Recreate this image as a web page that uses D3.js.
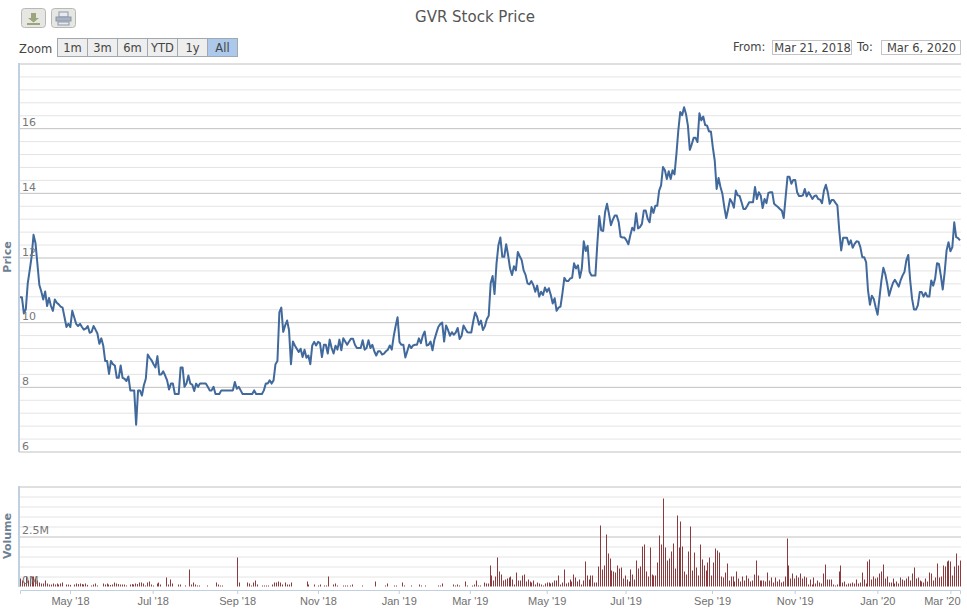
<!DOCTYPE html>
<html lang="en">
<head>
  <meta charset="UTF-8" />
  <title>GVR Stock Price</title>
  <style>
    body { margin: 0; background: white; }
    svg { display: block; font-family: "DejaVu Sans", sans-serif; }
    .grid-major line { stroke: #c0c0c0; }
    .grid-minor line { stroke: #e4e4e4; }
    .grid-major path, .grid-minor path { display: none; }
    .ylabel { font-size: 11px; fill: #777; }
    .xaxis text { font-size: 11px; fill: #6f6f6f; }
    .xaxis line { stroke: #c0d0e0; }
    .xaxis path { stroke: #c0d0e0; }
    .ui { font-size: 11.5px; fill: #444; }
  </style>
</head>
<body>
  <svg width="967" height="609"></svg>

  <script src="https://d3js.org/d3.v7.min.js"></script>
  <script>
    // closing price per trading day in three stretches
    const priceA = [10.77,10.77,10.27,10.4,11.2,11.6,12.03,12.7,12.45,11.8,11.15,10.95,10.7,10.95,10.5,10.75,10.5,10.35,10.7,10.6,10.55,10.48,10.45,10.15,9.85,9.95,9.85,10.35,10.15,9.95,9.88,9.95,9.85,9.77,9.8,9.88,9.67,9.7,9.88,9.77,9.65,9.33,9.5,9.28,8.8,8.8,8.4,8.8,8.7,8.66,8.28,8.28,8.66,8.28,8.25,8.18,8.32,7.89,7.89,7.89,6.83,7.89,7.89,7.73,8.05,8.25,9.0,8.9,8.82,8.7,8.6,8.95,8.38,8.38,8.48,8.35,8.2,7.92,8.1,8.1,7.78,7.78,7.78,8.6,8.6,8.0,8.1,8.35,8.1,8.07,7.87,8.1,8.0,8.1,8.1,8.1,8.1,8.0,7.89,7.89,8.0,7.78,7.78,7.78,7.89,7.89,7.89,7.89,7.89,7.89,7.89,8.15,7.94,8.0,7.89,7.78,7.78,7.78,7.78,7.78,7.78,7.89,7.78,7.78,7.78,7.78,7.89,8.1,8.1,8.2,8.1,8.2,8.7,8.8,10.3,10.45,9.7,9.9,10.05,9.75,8.7,9.4,9.28,9.18,9.08,9.18,8.92,9.15,8.9,8.97,8.7,9.28,9.39,9.28,9.39];
    const priceB = [9.35,8.92,9.3,9.3,9.03,9.46,9.2,9.03,9.27,9.15,9.46,9.13,9.5,9.4,9.3,9.4,9.49,9.49,9.3,9.2,9.2,9.2,9.44,9.15,9.2,9.44,9.2,9.3,9.1,8.97,9.1,9.1,9.0,9.03,9.1,9.15,9.28,9.15,9.56,9.88,10.15,9.38,9.3,9.3,8.91,9.1,9.3,9.2,9.28,9.3,9.3,9.5,9.35,9.58,9.71,9.28,9.3,9.4,9.13,9.46,9.66,9.85,9.94,9.99,9.4,9.9,9.76,9.58,9.69,9.61,9.68,9.82,9.48,9.58,9.9,9.79,9.69,9.68,9.68,10.02,10.3,10.17,9.92,10.05,9.76,9.87,10.09,10.2,11.2,11.43,10.87,11.8,12.38,12.62,12.02,12.02,12.41,12.07,11.66,11.46,11.73,11.6,12.17,12.04,11.92,11.6,11.46,11.2,11.17,11.27,11.15,10.94,11.13,10.79,10.94,10.84,11.07,10.94,11.05,10.84,10.58,10.74,10.35,10.45,10.48,10.89,11.37,11.27,11.27,11.35,11.37,11.82,11.66,11.76,11.37,11.66,12.5,12.2,12.36,11.56,11.44,11.44,11.44,12.43,13.28,12.84,12.82,13.4,13.66,13.35,13.0,13.17,13.3,13.3,13.1,12.64,12.62,12.62,12.53,12.41,12.69,12.92,12.84,13.37,12.9];
    const priceC = [12.94,13.04,13.45,13.45,13.2,13.09,13.56,13.38,13.6,13.6,14.07,14.23,14.8,14.7,14.43,14.67,14.43,14.7,14.57,15.2,15.93,16.5,16.4,16.65,16.44,16.08,15.33,15.5,15.7,15.7,15.57,16.46,16.24,16.36,16.1,16.08,15.9,15.9,15.41,15.0,14.12,14.46,14.18,13.97,13.56,13.22,13.5,13.81,13.71,13.54,14.07,13.92,13.9,13.71,13.5,13.5,13.6,13.71,13.71,13.71,14.18,13.81,14.02,13.92,13.53,13.81,13.68,14.0,14.02,14.02,13.66,13.61,13.56,13.5,13.45,13.22,13.87,14.5,14.5,14.28,14.4,14.4,14.02,13.9,13.9,13.92,14.12,13.89,14.02,13.92,13.81,13.9,13.92,13.81,13.79,13.68,14.07,14.25,14.02,13.66,13.78,13.78,13.69,13.61,12.83,12.22,12.61,12.61,12.61,12.4,12.53,12.3,12.42,12.5,12.49,12.32,12.01,12.01,11.86,10.98,10.54,10.82,10.72,10.46,10.23,10.77,11.29,11.68,11.49,11.19,10.82,11.03,11.21,11.31,11.21,11.1,11.29,11.44,11.55,11.91,12.08,11.29,10.72,10.39,10.39,10.52,10.93,10.93,10.79,10.91,10.79,10.79,11.29,11.13,11.34,11.82,11.8,11.44,11.01,11.55,12.22,12.47,12.19,12.32,13.09,12.63,12.6,12.53];
    const prices = priceA.concat(priceB, priceC);

    // traded volume in millions, same three stretches
    const volumeA = [0.4,0.3,0.2,0.5,0.3,0.4,0.5,0.5,0.4,0.3,0.2,0.15,0.15,0.3,0.15,0.1,0.1,0.15,0.1,0.15,0.1,0.15,0.2,0,0.1,0.1,0.08,0,0.1,0.15,0.12,0.15,0.12,0.1,0.15,0.08,0,0.05,0.1,0.15,0.05,0,0,0.15,0.1,0.15,0.1,0.08,0.1,0.2,0.15,0.12,0.1,0.1,0.1,0.05,0,0.1,0.12,0.1,0.15,0.12,0.2,0.2,0.15,0.05,0.2,0.25,0.1,0.05,0,0.15,0.2,0.1,0,0,0.45,0.1,0.35,0.15,0,0,0.1,0.1,0,0,0.05,0,0.85,0.1,0.2,0.1,0.05,0.05,0,0,0,0.05,0,0,0,0,0.2,0.1,0.05,0.05,0,0,0,0,0,0,0,1.45,0.2,0,0,0,0.2,0.15,0.05,0.2,0.3,0.1,0,0,0.05,0.05,0.05,0.05,0,0.1,0.2,0.2,0.25,0.2,0.1,0,0.2,0.1,0.1,0.2,0,0,0,0,0,0,0,0.25,0.1,0,0,0.1,0,0.05];
    const volumeB = [0.1,0,0.05,0.05,0.5,0,0,0.1,0.15,0.05,0,0,0.05,0.05,0.05,0,0.05,0.1,0,0,0,0,0.05,0,0,0,0,0,0,0.25,0,0,0,0,0.05,0.15,0,0,0,0.05,0.05,0,0,0.2,0.05,0,0,0,0.05,0,0,0,0.1,0.05,0,0.05,0,0,0,0,0,0,0.05,0.05,0.15,0,0,0,0,0,0.1,0.05,0.1,0.05,0,0,0.25,0.05,0,0,0.05,0.1,0.3,0.05,0.05,0,0.2,0.15,0.15,1.05,0.55,0.3,0.5,1.45,0.75,0.6,0.3,0.35,0.4,0.45,0.5,0.35,0.1,0.7,0.3,0.3,0.55,0.6,0.25,0.35,0.25,0.2,0.3,0.1,0.2,0.15,0.1,0.05,0.15,0.2,0.2,0.15,0.2,0.3,0.3,0.55,0.1,0.2,0.85,0.15,0.2,0.35,0.25,0.6,0.45,0.25,0.35,0.1,0.3,1.25,0.55,0.35,0.55,0.55,0.2,0.2,1.0,3.05,0.85,1.05,2.6,1.65,1.4,0.8,0.75,0.7,1.05,0.9,0.95,0.4,0.55,0.35,0.25,0.85,0.6,0.35,1.3,0.9];
    const volumeC = [1.0,2.0,2.1,0.75,0.5,1.95,0.6,0.55,0.55,1.2,2.55,2.1,4.4,1.95,1.3,1.4,1.75,2.15,0.9,3.55,1.95,3.25,2.0,0.75,0.6,1.75,3.0,0.8,1.7,0.95,0.55,2.1,1.35,1.05,0.8,1.2,1.45,0.55,1.2,1.9,1.8,1.7,0.5,0.45,0.7,1.15,0.3,0.5,0.5,0.25,0.75,0.4,0.25,0.5,0.3,0.55,0.4,0.25,0.3,0.6,1.3,0.55,0.3,0.3,0.3,0.25,0.7,0.3,0.45,0.2,0.45,0.25,0.35,0.2,0.25,0.5,2.4,1.05,0.4,0.65,0.4,0.55,0.45,0.65,0.4,0.5,0.45,0.1,0.35,0.1,0.45,0.15,0.3,0.2,0.15,0.65,1.1,0.35,0.35,0.35,0.1,0.05,0.1,0.75,1.05,0.2,0.25,0.1,0.15,0.15,0.2,0.15,0.35,0.15,0.2,0.7,0.35,0.15,1.25,1.35,0.35,0.5,0.4,0.45,0.65,0.75,1.1,0.4,0.5,0.2,0.2,0.4,0.15,0.25,0.15,0.45,0.35,0.3,0.4,0.5,0.3,0.65,0.95,0.4,0.45,0.3,0.25,0.2,0.4,0.25,0.7,0.65,0.3,0.45,1.15,0.45,0.5,1.05,1.0,1.25,1.3,1.25,0.55,1.0,1.65,1.05,1.3];
    const volumes = volumeA.concat(volumeB, volumeC);

    const tickLabels = ["May '18", "Jul '18", "Sep '18", "Nov '18", "Jan '19", "Mar '19", "May '19", "Jul '19", "Sep '19", "Nov '19", "Jan '20", "Mar '20"];
    const tickDays = [26, 69, 113, 155, 197, 234, 274, 315, 360, 403, 446, 484];
    const priceTicks = [6, 8, 10, 12, 14, 16];
    const volumeTicks = [0, 2.5];
    const rangeButtons = ["1m", "3m", "6m", "YTD", "1y", "All"];

    const left = 19, right = 961;
    const svg = d3.select("svg");

    // each stretch keeps its own number of days, pinned at the picture's x
    const xPrice = d3.scaleLinear()
      .domain([0, priceA.length, priceA.length + priceB.length, prices.length - 1])
      .range([20, 320, 640, 960]);
    const xVolume = d3.scaleLinear()
      .domain([0, volumeA.length, volumeA.length + volumeB.length, volumes.length - 1])
      .range([20, 320, 640, 960]);
    const xTicks = d3.scaleLinear().domain([0, 489]).range([20, 960]);

    const y = d3.scaleLinear().domain([6, 18]).range([451.5, 63.5]);
    const yVol = d3.scaleLinear().domain([0, 5]).range([586.5, 486.5]);

    function grid(scale, values, cls) {
      svg.append("g")
        .attr("class", cls)
        .attr("transform", `translate(${left},0)`)
        .call(d3.axisRight(scale).tickValues(values).tickSize(right - left).tickFormat(""));
    }

    grid(y, d3.range(6, 18.01, 0.4).filter(v => Math.abs(v / 2 - Math.round(v / 2)) > 0.01), "grid-minor");
    grid(yVol, d3.range(0.5, 5, 0.5).filter(v => v !== 2.5), "grid-minor");
    grid(y, priceTicks.concat([18]), "grid-major");
    grid(yVol, [2.5, 5], "grid-major");

    // left axis lines
    [[63, 452], [486, 587]].forEach(d => {
      svg.append("line").attr("x1", left).attr("x2", left).attr("y1", d[0]).attr("y2", d[1])
        .attr("stroke", "#c0d0e0").attr("stroke-width", 2);
    });

    svg.append("g")
      .selectAll("line")
      .data(volumes)
      .join("line")
        .attr("x1", (d, i) => Math.round(xVolume(i)) + 0.5)
        .attr("x2", (d, i) => Math.round(xVolume(i)) + 0.5)
        .attr("y1", yVol(0))
        .attr("y2", d => yVol(d))
        .attr("stroke", "#8b3a3d")
        .attr("stroke-width", 1);

    svg.append("path")
      .datum(prices)
      .attr("fill", "none")
      .attr("stroke", "#41699c")
      .attr("stroke-width", 2)
      .attr("stroke-linejoin", "round")
      .attr("d", d3.line().x((d, i) => xPrice(i)).y(d => y(d)));

    svg.append("g")
      .selectAll("text")
      .data(priceTicks)
      .join("text")
        .attr("class", "ylabel")
        .attr("x", 22)
        .attr("y", d => y(d) - 2)
        .text(d => d);

    svg.append("g")
      .selectAll("text")
      .data(volumeTicks)
      .join("text")
        .attr("class", "ylabel")
        .attr("x", 22)
        .attr("y", d => yVol(d) - 3)
        .text(d => d + "M");

    const xAxis = svg.append("g")
      .attr("class", "xaxis")
      .attr("transform", "translate(0,590)")
      .call(d3.axisBottom(xTicks).tickValues(tickDays).tickSize(4).tickPadding(3)
        .tickFormat((d, i) => tickLabels[i]));

    // last label is pulled back inside the plot, its tick stays put
    xAxis.selectAll(".tick:last-of-type text")
      .attr("text-anchor", "end")
      .attr("dx", right - xTicks(tickDays[tickDays.length - 1]) - 1);

    svg.append("text")
      .attr("x", 475).attr("y", 22)
      .attr("text-anchor", "middle")
      .attr("font-size", 15)
      .attr("fill", "#555")
      .text("GVR Stock Price");

    [["Price", 257], ["Volume", 536]].forEach(d => {
      svg.append("text")
        .attr("transform", `translate(11,${d[1]}) rotate(-90)`)
        .attr("text-anchor", "middle")
        .attr("font-size", 11)
        .attr("font-weight", "bold")
        .attr("fill", "#6d8093")
        .text(d[0]);
    });

    // export buttons
    [21, 51].forEach((bx, i) => {
      const b = svg.append("g").attr("transform", `translate(${bx},8)`);
      b.append("rect").attr("x", 0.5).attr("y", 0.5).attr("width", 24).attr("height", 19).attr("rx", 3)
        .attr("fill", "#e6e6e2").attr("stroke", "#b8b8b8");
      if (i === 0) {
        b.append("path").attr("d", "M10 5h5v5h3l-5.500 4.500-5.500-4.500h3z").attr("fill", "#9aa57c");
        b.append("rect").attr("x", 6).attr("y", 15).attr("width", 13).attr("height", 2).attr("fill", "#9aa57c");
      } else {
        b.append("rect").attr("x", 8).attr("y", 4).attr("width", 9).attr("height", 5).attr("fill", "#e8eaf0").attr("stroke", "#8d98a8");
        b.append("rect").attr("x", 5).attr("y", 9).attr("width", 15).attr("height", 4).attr("fill", "#a7b2c2").attr("stroke", "#8d98a8");
        b.append("rect").attr("x", 7).attr("y", 14).attr("width", 11).attr("height", 3).attr("fill", "#e8eaf0").attr("stroke", "#8d98a8");
      }
    });

    svg.append("text").attr("class", "ui").attr("x", 19).attr("y", 53).text("Zoom");

    const btn = svg.append("g").selectAll("g")
      .data(rangeButtons)
      .join("g")
        .attr("transform", (d, i) => `translate(${57.5 + i * 30},38.500)`);
    btn.append("rect")
      .attr("width", 30).attr("height", 18)
      .attr("fill", d => d === "All" ? "#acc8ea" : "#eeeeee")
      .attr("stroke", "#a0a8b0");
    btn.append("text")
      .attr("class", "ui")
      .attr("x", 15).attr("y", 13.500)
      .attr("text-anchor", "middle")
      .text(d => d);

    [["From:", 733, "Mar 21, 2018", 772.5], ["To:", 857, "Mar 6, 2020", 881.5]].forEach(d => {
      svg.append("text").attr("class", "ui").attr("x", d[1]).attr("y", 51).text(d[0]);
      svg.append("rect").attr("x", d[3]).attr("y", 40.500).attr("width", 79).attr("height", 14)
        .attr("fill", "white").attr("stroke", "#c4c4c4");
      svg.append("text").attr("class", "ui").attr("x", d[3] + 40).attr("y", 51.500)
        .attr("text-anchor", "middle").text(d[2]);
    });
  </script>
</body>
</html>
